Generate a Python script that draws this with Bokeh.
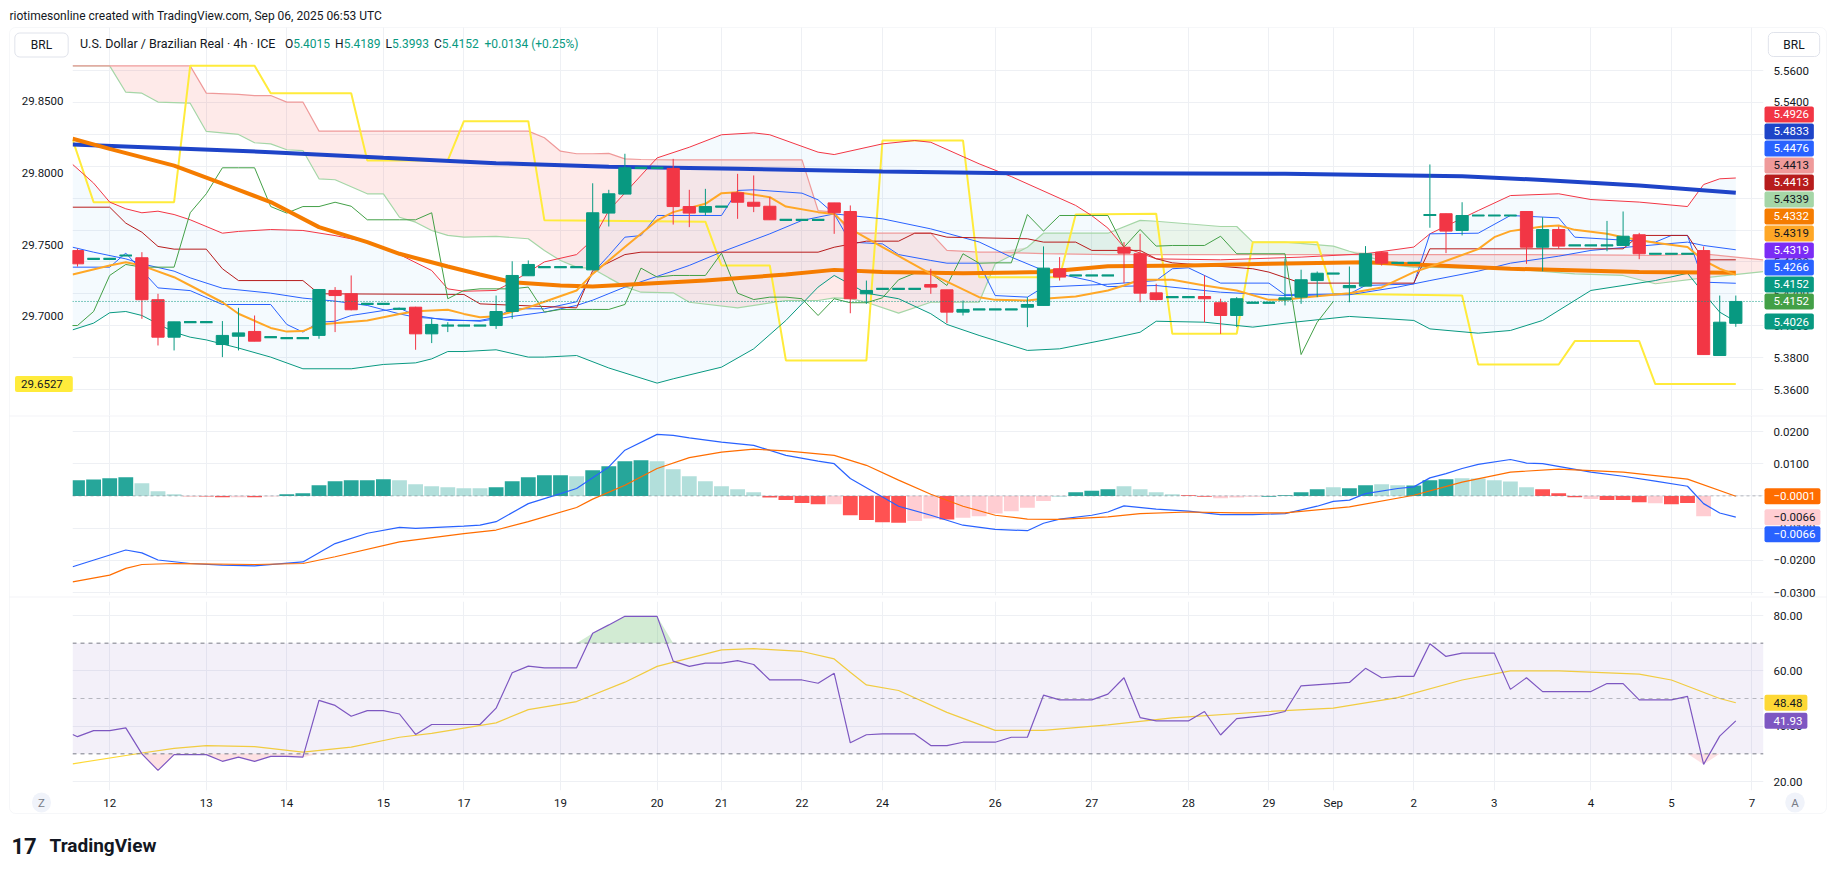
import numpy as np
from bokeh.plotting import figure
from bokeh.models import (Range1d, LinearAxis, FixedTicker, Label, Span, BoxAnnotation,
                          ColumnDataSource, NumeralTickFormatter, CustomJSTickFormatter)
from bokeh.layouts import column
from bokeh.embed import file_html
from bokeh.resources import INLINE

# ---------------- data ----------------
bar_open = [5.4471, 5.4419, 5.4419, 5.4440, 5.4426, 5.4163, 5.3928, 5.4022, 5.4022, 5.3882,
            5.3934, 5.3964, 5.3928, 5.3922, 5.3922, 5.3939, 5.4221, 5.4200, 5.4137, 5.4137,
            5.4106, 5.4116, 5.3949, 5.4001, 5.4001, 5.4001, 5.4001, 5.4089, 5.4313, 5.4367,
            5.4367, 5.4367, 5.4350, 5.4706, 5.4825, 5.4990, 5.4990, 5.4986, 5.4747, 5.4712,
            5.4747, 5.4833, 5.4774, 5.4749, 5.4664, 5.4664, 5.4664, 5.4770, 5.4716, 5.4200,
            5.4231, 5.4231, 5.4231, 5.4258, 5.4225, 5.4085, 5.4102, 5.4102, 5.4102, 5.4116,
            5.4127, 5.4357, 5.4315, 5.4315, 5.4315, 5.4492, 5.4451, 5.4206, 5.4179, 5.4179,
            5.4183, 5.4144, 5.4064, 5.4144, 5.4144, 5.4162, 5.4179, 5.4283, 5.4327, 5.4238,
            5.4248, 5.4461, 5.4394, 5.4394, 5.4691, 5.4702, 5.4597, 5.4691, 5.4691, 5.4691,
            5.4716, 5.4492, 5.4603, 5.4503, 5.4503, 5.4503, 5.4503, 5.4570, 5.4451, 5.4451,
            5.4451, 5.4471, 5.3813, 5.4015]
bar_high = [5.4482, 5.4419, 5.4419, 5.4440, 5.4461, 5.4200, 5.4024, 5.4022, 5.4022, 5.4029,
            5.4112, 5.4064, 5.3928, 5.3922, 5.3922, 5.4227, 5.4242, 5.4315, 5.4137, 5.4137,
            5.4106, 5.4119, 5.4043, 5.4022, 5.4001, 5.4001, 5.4189, 5.4404, 5.4409, 5.4367,
            5.4367, 5.4367, 5.4893, 5.4852, 5.5078, 5.4990, 5.4990, 5.5046, 5.4852, 5.4858,
            5.4747, 5.4952, 5.4942, 5.4806, 5.4664, 5.4664, 5.4664, 5.4770, 5.4754, 5.4283,
            5.4231, 5.4231, 5.4231, 5.4357, 5.4225, 5.4158, 5.4102, 5.4102, 5.4102, 5.4179,
            5.4497, 5.4430, 5.4315, 5.4315, 5.4315, 5.4524, 5.4576, 5.4263, 5.4179, 5.4179,
            5.4315, 5.4169, 5.4179, 5.4144, 5.4144, 5.4420, 5.4351, 5.4340, 5.4327, 5.4371,
            5.4499, 5.4461, 5.4394, 5.4394, 5.5011, 5.4702, 5.4774, 5.4691, 5.4691, 5.4691,
            5.4716, 5.4680, 5.4622, 5.4503, 5.4503, 5.4657, 5.4716, 5.4582, 5.4451, 5.4451,
            5.4451, 5.4497, 5.4189, 5.4189]
bar_low = [5.4371, 5.4419, 5.4419, 5.4440, 5.4043, 5.3876, 5.3845, 5.4022, 5.4022, 5.3803,
           5.3845, 5.3903, 5.3928, 5.3922, 5.3922, 5.3918, 5.3960, 5.4096, 5.4137, 5.4137,
           5.4106, 5.3849, 5.3891, 5.3960, 5.4001, 5.4001, 5.3980, 5.4043, 5.4313, 5.4367,
           5.4367, 5.4367, 5.4350, 5.4622, 5.4825, 5.4990, 5.4990, 5.4634, 5.4618, 5.4691,
           5.4747, 5.4670, 5.4712, 5.4664, 5.4664, 5.4664, 5.4664, 5.4576, 5.4078, 5.4137,
           5.4231, 5.4231, 5.4231, 5.4200, 5.4016, 5.4064, 5.4102, 5.4102, 5.4102, 5.3991,
           5.4127, 5.4283, 5.4315, 5.4315, 5.4315, 5.4267, 5.4147, 5.4158, 5.4179, 5.4179,
           5.4022, 5.3949, 5.3991, 5.4144, 5.4144, 5.4127, 5.4137, 5.4179, 5.4327, 5.4147,
           5.4248, 5.4377, 5.4394, 5.4394, 5.4614, 5.4455, 5.4566, 5.4691, 5.4691, 5.4691,
           5.4388, 5.4342, 5.4482, 5.4503, 5.4503, 5.4467, 5.4503, 5.4417, 5.4451, 5.4451,
           5.4451, 5.3819, 5.3813, 5.3993]
bar_close = [5.4388, 5.4419, 5.4419, 5.4440, 5.4163, 5.3928, 5.4024, 5.4022, 5.4022, 5.3939,
             5.3955, 5.3903, 5.3928, 5.3922, 5.3922, 5.4227, 5.4189, 5.4100, 5.4137, 5.4137,
             5.4106, 5.3949, 5.4008, 5.4001, 5.4001, 5.4001, 5.4089, 5.4315, 5.4384, 5.4367,
             5.4367, 5.4367, 5.4708, 5.4827, 5.4990, 5.4990, 5.4990, 5.4747, 5.4706, 5.4747,
             5.4747, 5.4774, 5.4749, 5.4664, 5.4664, 5.4664, 5.4664, 5.4708, 5.4169, 5.4221,
             5.4231, 5.4231, 5.4231, 5.4242, 5.4085, 5.4102, 5.4102, 5.4102, 5.4102, 5.4133,
             5.4361, 5.4305, 5.4315, 5.4315, 5.4315, 5.4455, 5.4204, 5.4164, 5.4179, 5.4179,
             5.4169, 5.4064, 5.4169, 5.4144, 5.4144, 5.4175, 5.4288, 5.4329, 5.4327, 5.4252,
             5.4451, 5.4392, 5.4394, 5.4394, 5.4697, 5.4593, 5.4691, 5.4691, 5.4691, 5.4691,
             5.4492, 5.4603, 5.4499, 5.4503, 5.4503, 5.4503, 5.4561, 5.4451, 5.4451, 5.4451,
             5.4451, 5.3819, 5.4022, 5.4152]

# Bollinger Bands (20, 2)
bb_up_i = [-0.3, 1, 2, 3, 4, 5, 6, 7, 9, 10, 12, 14, 16, 18, 20, 22, 23, 24, 26, 27, 29, 31, 32, 33,
           36, 38, 40, 42, 43, 46, 47, 50, 52, 53, 56, 58, 62, 63, 64, 65, 67, 71, 76, 80, 83, 84,
           87, 89, 92, 94, 97, 100, 101, 102, 103]
bb_up_v = [5.5011, 5.4894, 5.4775, 5.4733, 5.4708, 5.4718, 5.4697, 5.4664, 5.4580, 5.4591, 5.4603,
           5.4597, 5.4565, 5.4524, 5.4446, 5.4346, 5.4231, 5.4216, 5.4221, 5.4273, 5.4400, 5.4446,
           5.4540, 5.4722, 5.5052, 5.5119, 5.5197, 5.5209, 5.5197, 5.5088, 5.5073, 5.5140, 5.5161,
           5.5150, 5.5015, 5.4935, 5.4754, 5.4690, 5.4612, 5.4492, 5.4419, 5.4413, 5.4430, 5.4451,
           5.4493, 5.4576, 5.4722, 5.4816, 5.4827, 5.4791, 5.4775, 5.4747, 5.4885, 5.4921, 5.4926]
bb_lo_i = [-0.3, 1, 2, 3, 4, 6, 7, 8, 10, 12, 14, 17, 19, 21, 22, 23, 24, 26, 28, 29, 31, 33, 36,
           37, 40, 42, 44, 46, 47, 49, 51, 53, 54, 56, 59, 61, 64, 66, 67, 70, 73, 75, 79, 83, 84,
           87, 89, 91, 94, 98, 100, 101, 102, 103]
bb_lo_v = [5.3974, 5.4016, 5.4081, 5.4089, 5.4064, 5.3959, 5.3928, 5.3911, 5.3860, 5.3803, 5.3730,
           5.3730, 5.3757, 5.3767, 5.3792, 5.3838, 5.3838, 5.3849, 5.3803, 5.3803, 5.3813, 5.3735,
           5.3640, 5.3667, 5.3740, 5.3855, 5.4033, 5.4242, 5.4315, 5.4204, 5.4169, 5.4075, 5.4008,
           5.3939, 5.3845, 5.3855, 5.3915, 5.3959, 5.4028, 5.4022, 5.3991, 5.4016, 5.4058, 5.4033,
           5.3980, 5.3953, 5.3970, 5.4033, 5.4221, 5.4283, 5.4329, 5.4204, 5.4085, 5.4026]
bb_mid_i = [-0.3, 1, 3, 4, 6, 7, 9, 12, 14, 16, 18, 20, 21, 24, 25, 27, 29, 31, 32, 34, 36, 38, 40,
            43, 45, 47, 50, 53, 56, 58, 60, 63, 64, 67, 71, 75, 79, 82, 84, 87, 89, 92, 94, 97, 100,
            101, 103]
bb_mid_v = [5.4492, 5.4461, 5.4419, 5.4388, 5.4342, 5.4300, 5.4235, 5.4204, 5.4173, 5.4154, 5.4127,
            5.4074, 5.4053, 5.4033, 5.4028, 5.4058, 5.4085, 5.4127, 5.4160, 5.4242, 5.4309, 5.4378,
            5.4462, 5.4576, 5.4660, 5.4701, 5.4670, 5.4607, 5.4525, 5.4430, 5.4346, 5.4280, 5.4245,
            5.4252, 5.4210, 5.4189, 5.4194, 5.4242, 5.4283, 5.4342, 5.4392, 5.4436, 5.4472, 5.4499,
            5.4524, 5.4503, 5.4476]

# Ichimoku
conv_i = [-0.3, 2, 3, 5, 7, 9, 12, 13, 14, 15, 16, 17, 19, 20, 21, 23, 25, 26, 27, 29, 31, 32, 33,
          34, 35, 36, 40, 41, 42, 45, 46, 47, 48, 50, 51, 53, 54, 56, 57, 59, 60, 64, 67, 68, 69, 71,
          74, 75, 79, 80, 83, 84, 87, 89, 92, 93, 98, 99, 100, 101, 103]
conv_v = [5.4367, 5.4367, 5.4455, 5.4237, 5.4220, 5.4133, 5.4133, 5.4008, 5.3960, 5.4022, 5.4028,
          5.4064, 5.4095, 5.4110, 5.4064, 5.4033, 5.4033, 5.4053, 5.4106, 5.4106, 5.4150, 5.4330,
          5.4440, 5.4555, 5.4565, 5.4691, 5.4691, 5.4848, 5.4852, 5.4831, 5.4789, 5.4701, 5.4524,
          5.4513, 5.4446, 5.4409, 5.4392, 5.4392, 5.4189, 5.4179, 5.4242, 5.4260, 5.4283, 5.4357,
          5.4363, 5.4267, 5.4267, 5.4194, 5.4200, 5.4252, 5.4262, 5.4576, 5.4580, 5.4691, 5.4676,
          5.4555, 5.4524, 5.4566, 5.4566, 5.4273, 5.4266]
base_i = [-0.3, 2, 3, 4, 5, 6, 8, 9, 10, 14, 15, 24, 25, 31, 32, 34, 35, 46, 47, 49, 51, 52, 53, 54,
          59, 60, 62, 63, 66, 67, 68, 73, 74, 76, 83, 84, 96, 97, 100, 101, 103]
base_v = [5.4743, 5.4743, 5.4643, 5.4586, 5.4497, 5.4480, 5.4480, 5.4357, 5.4283, 5.4283, 5.4200,
          5.4196, 5.4137, 5.4112, 5.4346, 5.4446, 5.4461, 5.4461, 5.4492, 5.4530, 5.4530, 5.4580,
          5.4580, 5.4555, 5.4545, 5.4524, 5.4524, 5.4472, 5.4472, 5.4420, 5.4394, 5.4357, 5.4336,
          5.4267, 5.4267, 5.4482, 5.4482, 5.4566, 5.4566, 5.4413, 5.4413]
lag_i = list(range(-1, 79))
lag_v = [5.4001, 5.4001, 5.4089, 5.4315, 5.4384, 5.4367, 5.4367, 5.4367, 5.4708, 5.4827,
         5.4990, 5.4990, 5.4990, 5.4747, 5.4706, 5.4747, 5.4747, 5.4774, 5.4749, 5.4664,
         5.4664, 5.4664, 5.4664, 5.4708, 5.4169, 5.4221, 5.4231, 5.4231, 5.4231, 5.4242,
         5.4085, 5.4102, 5.4102, 5.4102, 5.4102, 5.4133, 5.4361, 5.4305, 5.4315, 5.4315,
         5.4315, 5.4455, 5.4204, 5.4164, 5.4179, 5.4179, 5.4169, 5.4064, 5.4169, 5.4144,
         5.4144, 5.4175, 5.4288, 5.4329, 5.4327, 5.4252, 5.4451, 5.4392, 5.4394, 5.4394,
         5.4697, 5.4593, 5.4691, 5.4691, 5.4691, 5.4691, 5.4492, 5.4603, 5.4499, 5.4503,
         5.4503, 5.4503, 5.4561, 5.4451, 5.4451, 5.4451, 5.4451, 5.3819, 5.4022, 5.4152]
cloud_i = [-0.3, 2, 3, 4, 5, 7, 8, 10, 11, 12, 13, 14, 15, 16, 18, 19, 20, 21, 22, 23, 24, 26, 28,
           29, 30, 31, 32, 33, 34, 35, 37, 38, 41, 44, 45, 46, 47, 48, 49, 51, 53, 54, 56, 57, 59,
           60, 64, 66, 67, 71, 72, 73, 75, 78, 79, 82, 83, 89, 93, 96, 98, 101, 104.7]
span_a = [5.5629, 5.5629, 5.5464, 5.5458, 5.5402, 5.5395, 5.5218, 5.5199, 5.5147, 5.5140, 5.5103,
          5.5098, 5.4921, 5.4915, 5.4827, 5.4827, 5.4680, 5.4649, 5.4597, 5.4566, 5.4555, 5.4560,
          5.4545, 5.4471, 5.4409, 5.4367, 5.4357, 5.4300, 5.4245, 5.4210, 5.4206, 5.4147, 5.4112,
          5.4158, 5.4158, 5.4158, 5.4175, 5.4170, 5.4147, 5.4079, 5.4147, 5.4147, 5.4147, 5.4388,
          5.4492, 5.4580, 5.4580, 5.4660, 5.4655, 5.4622, 5.4622, 5.4524, 5.4524, 5.4499, 5.4467,
          5.4377, 5.4367, 5.4357, 5.4325, 5.4315, 5.4263, 5.4300, 5.4339]
span_b = [5.5629, 5.5629, 5.5629, 5.5629, 5.5629, 5.5629, 5.5458, 5.5450, 5.5443, 5.5443, 5.5402,
          5.5402, 5.5220, 5.5220, 5.5220, 5.5220, 5.5220, 5.5220, 5.5220, 5.5220, 5.5220, 5.5220,
          5.5220, 5.5178, 5.5094, 5.5078, 5.5078, 5.5080, 5.5046, 5.5042, 5.5040, 5.5040, 5.5040,
          5.5040, 5.5040, 5.4722, 5.4712, 5.4580, 5.4580, 5.4580, 5.4580, 5.4472, 5.4461, 5.4461,
          5.4455, 5.4452, 5.4446, 5.4446, 5.4446, 5.4446, 5.4446, 5.4446, 5.4446, 5.4446, 5.4446,
          5.4446, 5.4446, 5.4446, 5.4444, 5.4442, 5.4440, 5.4450, 5.4413]

# Moving averages
ma_long_i = [-0.3, 12, 19, 26, 33, 41, 50, 58, 64, 75, 86, 91, 97, 103]
ma_long_v = [5.5136, 5.5088, 5.5053, 5.5019, 5.4996, 5.4984, 5.4967, 5.4956, 5.4956, 5.4952,
             5.4937, 5.4914, 5.4879, 5.4834]
ma_mid_i = [-0.3, 2, 6, 9, 12, 15, 18, 20, 23, 25, 27, 30, 32, 39, 44, 47, 50, 55, 60, 64, 69, 74,
            80, 82, 89, 97, 103]
ma_mid_v = [5.5172, 5.5109, 5.5004, 5.4890, 5.4775, 5.4618, 5.4524, 5.4451, 5.4371, 5.4321, 5.4273,
            5.4252, 5.4246, 5.4283, 5.4321, 5.4350, 5.4336, 5.4329, 5.4336, 5.4373, 5.4377, 5.4388,
            5.4398, 5.4388, 5.4357, 5.4336, 5.4332]
ma_fast_i = [-0.3, 2, 3, 4, 6, 7, 9, 10, 12, 13, 14, 15, 18, 20, 21, 23, 24, 25, 26, 28, 29, 31, 32,
             34, 36, 37, 39, 40, 41, 43, 44, 46, 47, 48, 50, 53, 56, 57, 59, 60, 62, 64, 65, 66, 68,
             70, 72, 74, 75, 76, 79, 81, 83, 84, 87, 88, 89, 91, 92, 93, 95, 96, 98, 100, 101, 102, 103]
ma_fast_v = [5.4321, 5.4377, 5.4398, 5.4377, 5.4304, 5.4252, 5.4147, 5.4075, 5.3986, 5.3963, 5.3966,
             5.4008, 5.4033, 5.4074, 5.4091, 5.4100, 5.4074, 5.4053, 5.4060, 5.4115, 5.4150, 5.4221,
             5.4325, 5.4493, 5.4660, 5.4712, 5.4764, 5.4831, 5.4837, 5.4806, 5.4747, 5.4712, 5.4701,
             5.4607, 5.4493, 5.4325, 5.4179, 5.4162, 5.4158, 5.4169, 5.4183, 5.4221, 5.4252, 5.4288,
             5.4288, 5.4252, 5.4221, 5.4162, 5.4162, 5.4175, 5.4204, 5.4240, 5.4336, 5.4370, 5.4480,
             5.4555, 5.4593, 5.4622, 5.4628, 5.4601, 5.4576, 5.4555, 5.4520, 5.4493, 5.4409, 5.4357,
             5.4319]

# step line on the left scale
step_i = [-0.3, 1, 6, 7, 11, 12, 17, 18, 23, 24, 28, 29, 39, 40, 43, 44, 49, 50, 55, 56, 61, 62, 67,
          68, 72, 73, 77, 78, 86, 87, 92, 93, 97, 98, 103]
step_v = [29.8231, 29.7796, 29.7796, 29.8747, 29.8747, 29.8556, 29.8556, 29.8087, 29.8087, 29.8361,
          29.8361, 29.7669, 29.7660, 29.7354, 29.7354, 29.6692, 29.6692, 29.8226, 29.8226, 29.7273,
          29.7273, 29.7710, 29.7715, 29.6878, 29.6878, 29.7517, 29.7517, 29.7157, 29.7145, 29.6664,
          29.6664, 29.6827, 29.6827, 29.6527, 29.6527]

# MACD
macd_hist = [0.00486, 0.00506, 0.00548, 0.00579, 0.00393, 0.00145, 0.00052, -0.0001, -0.0002, -0.0004,
             -0.0004, -0.0004, -0.0002, 0.0005, 0.0008, 0.0033, 0.00455, 0.00486, 0.00486, 0.00517,
             0.00486, 0.00362, 0.0030, 0.00269, 0.00238, 0.00238, 0.00269, 0.00455, 0.00579, 0.0064,
             0.0064, 0.0061, 0.0080, 0.0092, 0.01075, 0.0111, 0.01075, 0.0083, 0.0061, 0.00455,
             0.0030, 0.0021, 0.0011, -0.0005, -0.0013, -0.0022, -0.0026, -0.0026, -0.0060, -0.0075,
             -0.0082, -0.0083, -0.0078, -0.0070, -0.0073, -0.0068, -0.0063, -0.0055, -0.0048, -0.0037,
             -0.0016, -0.0001, 0.0011, 0.0016, 0.0021, 0.0030, 0.0021, 0.0011, 0.0005, 0.0002,
             -0.0003, -0.0007, -0.0005, -0.0003, -0.0003, 0.0002, 0.0011, 0.0021, 0.0027, 0.0024,
             0.0033, 0.0036, 0.0033, 0.0032, 0.0049, 0.0052, 0.0055, 0.0054, 0.0049, 0.0045,
             0.0027, 0.0021, 0.0008, -0.0004, -0.0010, -0.0013, -0.0013, -0.0020, -0.0023, -0.0026,
             -0.0022, -0.0063, -0.0071, -0.0066]
macd_hist_kind = ("GGGGgggRRRrRrGGGGGGGggggggGGGGGgGGGGgggggggRRRRrRRRRrrRrrrrrrGGGGggggRRrrrGGGGgGGgg"
                  "GGGgggggRRRrRRRrRRr")
macd_i = [-0.3, 3, 4, 5, 7, 9, 11, 14, 16, 18, 20, 21, 24, 25, 26, 28, 30, 31, 33, 34, 36, 37, 38, 40,
          42, 44, 46, 47, 48, 51, 53, 55, 57, 59, 60, 61, 63, 64, 65, 67, 69, 71, 73, 75, 77, 78, 79,
          80, 82, 83, 84, 85, 86, 87, 89, 90, 91, 94, 96, 98, 100, 101, 102, 103]
macd_v = [-0.0220, -0.0168, -0.0177, -0.0199, -0.0210, -0.0215, -0.0217, -0.0205, -0.0148, -0.0116,
          -0.0098, -0.0101, -0.0094, -0.0091, -0.0080, -0.0024, 0.0007, 0.0023, 0.0090, 0.0142,
          0.0191, 0.0188, 0.0180, 0.0167, 0.0157, 0.0126, 0.0108, 0.0100, 0.0054, -0.0032, -0.0060,
          -0.0091, -0.0104, -0.0108, -0.0085, -0.0072, -0.0060, -0.0050, -0.0031, -0.0041, -0.0047,
          -0.0058, -0.0058, -0.0055, -0.0032, -0.0017, -0.0013, 0.0007, 0.0023, 0.0028, 0.0056,
          0.0069, 0.0085, 0.0098, 0.0113, 0.0102, 0.0100, 0.0074, 0.0061, 0.0046, 0.0030, -0.0024,
          -0.0053, -0.0066]
signal_i = [-0.3, 2, 3, 4, 6, 11, 14, 16, 20, 24, 26, 28, 31, 32, 34, 36, 38, 40, 42, 44, 47, 49, 51,
            53, 55, 57, 59, 61, 64, 66, 69, 72, 75, 79, 83, 86, 89, 92, 96, 100, 103]
signal_v = [-0.0267, -0.0246, -0.0225, -0.0213, -0.0210, -0.0213, -0.0210, -0.0189, -0.0143, -0.0117,
            -0.0106, -0.0080, -0.0036, -0.0010, 0.0033, 0.0085, 0.0119, 0.0136, 0.0145, 0.0140,
            0.0126, 0.0095, 0.0049, 0.0005, -0.0032, -0.0060, -0.0072, -0.0073, -0.0065, -0.0055,
            -0.0050, -0.0053, -0.0053, -0.0034, 0.0002, 0.0043, 0.0074, 0.0083, 0.0074, 0.0052,
            -0.0001]

# RSI
rsi_i = [-0.3, 0, 1, 2, 3, 4, 5, 6, 8, 9, 10, 11, 12, 13, 14, 15, 16, 17, 18, 19, 20, 21, 22, 25, 26,
         27, 28, 29, 31, 32, 33, 34, 36, 37, 38, 39, 40, 41, 42, 43, 45, 46, 47, 48, 49, 50, 51, 52,
         53, 54, 55, 57, 58, 59, 60, 61, 63, 64, 65, 66, 67, 69, 70, 71, 72, 74, 75, 76, 78, 79, 80,
         81, 82, 83, 84, 85, 86, 88, 89, 90, 91, 94, 95, 96, 97, 99, 100, 101, 102, 103]
rsi_v = [37.0, 36.2, 38.4, 38.4, 39.4, 30.0, 24.0, 29.7, 29.7, 27.3, 28.8, 27.3, 29.1, 29.1, 28.8,
         49.3, 47.5, 43.6, 45.6, 45.6, 44.4, 37.0, 40.6, 40.6, 46.5, 59.3, 61.7, 61.1, 61.1, 73.6,
         76.6, 79.7, 79.7, 63.5, 61.6, 62.8, 62.8, 63.7, 62.3, 56.7, 56.7, 55.5, 59.1, 34.0, 36.9,
         37.2, 37.2, 37.2, 33.0, 33.0, 34.2, 34.2, 36.0, 36.0, 51.2, 49.5, 49.5, 51.6, 57.5, 43.1,
         41.9, 41.9, 45.3, 36.8, 42.7, 44.0, 45.3, 54.6, 55.4, 55.8, 60.9, 57.5, 58.0, 58.0, 69.8,
         65.2, 66.4, 66.4, 53.3, 57.5, 52.5, 52.5, 55.4, 55.4, 49.5, 49.5, 50.8, 26.2, 36.4, 41.93]
rsi_ma_i = [-0.3, 4, 6, 8, 11, 14, 17, 20, 22, 26, 28, 31, 34, 36, 40, 42, 45, 47, 48, 49, 51, 54, 57,
            60, 64, 68, 74, 78, 82, 86, 89, 92, 97, 99, 102, 103]
rsi_ma_v = [26.4, 30.3, 32.0, 33.0, 32.6, 30.6, 32.4, 36.0, 37.4, 41.2, 46.0, 48.9, 55.9, 61.6, 67.6,
            68.0, 67.0, 64.3, 59.5, 54.9, 52.9, 45.0, 38.5, 38.5, 40.5, 43.0, 45.3, 46.5, 50.3, 56.7,
            60.0, 60.0, 58.8, 56.7, 50.0, 48.48]

# axis ticks / labels
time_tick_idx = [2, 8, 13, 19, 24, 30, 36, 40, 45, 50, 57, 63, 69, 74, 78, 83, 88, 94, 99, 104]
time_tick_lbl = ["12", "13", "14", "15", "17", "19", "20", "21", "22", "24", "26", "27", "28", "29",
                 "Sep", "2", "3", "4", "5", "7"]
price_ticks = [5.36, 5.38, 5.40, 5.42, 5.44, 5.46, 5.48, 5.50, 5.52, 5.54, 5.56]
left_ticks = [29.70, 29.75, 29.80, 29.85]
macd_ticks = [-0.03, -0.02, -0.01, 0.0, 0.01, 0.02]
rsi_ticks = [20, 40, 60, 80]

# ---------------- styling / geometry constants ----------------
UP, DOWN = "#089981", "#F23645"
TXT = "#131722"
GRID = "#EEF0F4"
SEP = "#E0E3EB"
FONT = "Roboto"
FS = "11.5px"
W, H = 1835, 875
FL, FR = 72, 1763              # plot frame left / right (canvas px)
X0, X1 = -0.31, 104.72
P_LO, P_HI = 5.34370, 5.58696   # price pane, frame 27..415
L_LO, L_HI = 29.6308, 29.9014
M_LO, M_HI = -0.03093, 0.02497  # macd pane, frame 415..595
R_LO, R_HI = 16.75, 85.06       # rsi pane, frame 601..790
PANES = {"price": (27, 415, P_LO, P_HI), "left": (27, 415, L_LO, L_HI),
         "macd": (415, 595, M_LO, M_HI), "rsi": (601, 790, R_LO, R_HI)}


def make_fig(h, ylo, yhi, top, bottom, xaxis=None):
    p = figure(width=W, height=h, x_range=Range1d(X0, X1), y_range=Range1d(ylo, yhi),
               min_border_left=FL, min_border_right=W - FR, min_border_top=top,
               min_border_bottom=bottom, x_axis_location=xaxis, y_axis_location="right",
               output_backend="svg", toolbar_location=None, outline_line_color=None,
               background_fill_color="white", border_fill_color="white")
    p.xgrid.ticker = FixedTicker(ticks=time_tick_idx)
    p.xgrid.grid_line_color = GRID
    p.ygrid.grid_line_color = GRID
    return p


def style_axis(ax, ticks, standoff=10):
    ax.ticker = FixedTicker(ticks=ticks)
    ax.axis_line_color = None
    ax.major_tick_line_color = None
    ax.minor_tick_line_color = None
    ax.major_tick_out = 0
    ax.major_tick_in = 0
    ax.minor_tick_out = 0
    ax.major_label_text_font = FONT
    ax.major_label_text_font_size = FS
    ax.major_label_text_color = TXT
    ax.major_label_standoff = standoff


# ================= price pane =================
p1 = make_fig(415, P_LO, P_HI, 27, 0)
style_axis(p1.yaxis[0], price_ticks)
p1.yaxis[0].formatter = NumeralTickFormatter(format="0.0000")
p1.ygrid.ticker = FixedTicker(ticks=price_ticks)
p1.extra_y_ranges = {"left": Range1d(L_LO, L_HI)}
lax = LinearAxis(y_range_name="left", formatter=NumeralTickFormatter(format="0.0000"))
style_axis(lax, left_ticks, standoff=9)
p1.add_layout(lax, "left")

p1.patch(x=bb_up_i + bb_lo_i[::-1], y=bb_up_v + bb_lo_v[::-1], fill_color="#2196F3",
         fill_alpha=0.05, line_color=None)
sa, sb = np.array(span_a), np.array(span_b)
top_ab = np.maximum(sa, sb)
p1.varea(x=cloud_i, y1=sa, y2=top_ab, fill_color="#F44336", fill_alpha=0.11)
p1.varea(x=cloud_i, y1=sb, y2=top_ab, fill_color="#43A047", fill_alpha=0.11)
p1.line(cloud_i, span_a, line_color="#A5D6A7", line_width=1.2)
p1.line(cloud_i, span_b, line_color="#EF9A9A", line_width=1.2)
p1.line(step_i, step_v, y_range_name="left", line_color="#FFEB3B", line_width=2)
p1.line(bb_up_i, bb_up_v, line_color="#F23645", line_width=1)
p1.line(bb_lo_i, bb_lo_v, line_color="#089981", line_width=1)
p1.line(bb_mid_i, bb_mid_v, line_color="#2962FF", line_width=1)
p1.line(conv_i, conv_v, line_color="#2962FF", line_width=1)
p1.line(base_i, base_v, line_color="#B71C1C", line_width=1)
p1.line(lag_i, lag_v, line_color="#43A047", line_width=1)
p1.line(ma_long_i, ma_long_v, line_color="#1E44C8", line_width=4)
p1.line(ma_mid_i, ma_mid_v, line_color="#F57C00", line_width=4)
p1.line(ma_fast_i, ma_fast_v, line_color="#FFA726", line_width=2)
p1.add_layout(Span(location=bar_close[-1], dimension="width", line_color=UP, line_dash="1 2",
                   line_width=1))

idx = list(range(len(bar_open)))
col = [UP if c >= o else DOWN for o, c in zip(bar_open, bar_close)]
csrc = ColumnDataSource(dict(x=idx, h=bar_high, l=bar_low,
                             top=[max(o, c) for o, c in zip(bar_open, bar_close)],
                             bot=[min(o, c) for o, c in zip(bar_open, bar_close)], color=col))
p1.segment(x0="x", x1="x", y0="l", y1="h", line_color="color", line_width=1, source=csrc)
p1.vbar(x="x", width=0.76, top="top", bottom="bot", fill_color="color", line_color="color",
        source=csrc)
flat = [k for k in idx if abs(bar_open[k] - bar_close[k]) < 0.0004]
p1.segment(x0=[k - 0.38 for k in flat], x1=[k + 0.38 for k in flat],
           y0=[bar_close[k] for k in flat], y1=[bar_close[k] for k in flat],
           line_color=[col[k] for k in flat], line_width=2.2)

# ================= MACD pane =================
p2 = make_fig(186, M_LO, M_HI, 0, 6)
style_axis(p2.yaxis[0], macd_ticks)
p2.yaxis[0].formatter = CustomJSTickFormatter(
    code="return (tick < -1e-9 ? '\u2212' : '') + Math.abs(tick).toFixed(4);")
p2.ygrid.ticker = FixedTicker(ticks=macd_ticks)
kind_col = {"G": "#26A69A", "g": "#B2DFDB", "R": "#FF5252", "r": "#FFCDD2"}
p2.vbar(x=idx, width=0.92, top=macd_hist, bottom=0,
        fill_color=[kind_col[k] for k in macd_hist_kind], line_color=None)
p2.add_layout(Span(location=0, dimension="width", line_color="#787B86", line_alpha=0.5,
                   line_dash="3 3", line_width=1))
p2.line(macd_i, macd_v, line_color="#2962FF", line_width=1.2)
p2.line(signal_i, signal_v, line_color="#FF6D00", line_width=1.2)

# ================= RSI pane =================
p3 = make_fig(274, R_LO, R_HI, 0, 85, xaxis="below")
style_axis(p3.yaxis[0], rsi_ticks)
p3.yaxis[0].formatter = NumeralTickFormatter(format="0.00")
p3.ygrid.ticker = FixedTicker(ticks=rsi_ticks)
xa = p3.xaxis[0]
style_axis(xa, time_tick_idx, standoff=5)
xa.major_label_overrides = {t: s for t, s in zip(time_tick_idx, time_tick_lbl)}
p3.add_layout(BoxAnnotation(bottom=30, top=70, fill_color="#7E57C2", fill_alpha=0.09,
                            line_color=None))
for lvl, a in [(70, 1.0), (30, 1.0), (50, 0.5)]:
    p3.add_layout(Span(location=lvl, dimension="width", line_color="#787B86", line_alpha=a,
                       line_dash="4 4", line_width=1))
rv = np.array(rsi_v)
p3.varea(x=rsi_i, y1=70, y2=np.maximum(rv, 70), fill_color="#4CAF50", fill_alpha=0.25)
p3.varea(x=rsi_i, y1=np.minimum(rv, 30), y2=30, fill_color="#F23645", fill_alpha=0.15)
p3.line(rsi_ma_i, rsi_ma_v, line_color="#FDD835", line_width=1.2)
p3.line(rsi_i, rsi_v, line_color="#7E57C2", line_width=1.2)

# ================= overlay (texts outside the plot frames) =================
ov_kw = dict(height=H, x_range=Range1d(0, W), y_range=Range1d(0, H),
             min_border_left=0, min_border_right=0, min_border_top=0, min_border_bottom=0,
             x_axis_location=None, y_axis_location=None, output_backend="svg",
             toolbar_location=None, outline_line_color=None, background_fill_color=None,
             border_fill_color=None)
try:
    # opt out of the column's frame alignment so the overlay frame is the whole page
    ov = figure(width=W, margin=(-H, 0, 0, 0), frame_align=False, **ov_kw)
except Exception:
    ov = figure(width=W + 2 * FL, margin=(-H, -FL, 0, -FL), **ov_kw)
ov.xgrid.visible = False
ov.ygrid.visible = False


def aligned(top, bot, lo, hi):
    ppu = (bot - top) / (hi - lo)
    return Range1d(lo - (H - bot) / ppu, hi + top / ppu)


ov.extra_y_ranges = {k: aligned(*v) for k, v in PANES.items()}


def otxt(X, Y, text, size=FS, color=TXT, align="left", style="normal", **kw):
    ov.add_layout(Label(x=X, y=H - Y, x_units="screen", y_units="screen", text=text,
                        text_font=FONT, text_font_size=size, text_color=color, text_align=align,
                        text_baseline="middle", text_font_style=style, **kw))


def value_boxes(items, pane, upward):
    top, bot, lo, hi = PANES[pane]
    box_h = 17.0 * (hi - lo) / (bot - top)
    pos = []
    for k, it in enumerate(items):
        v = it[0]
        if k == 0:
            q = v
        elif upward:
            q = max(v, pos[-1] + box_h)
        else:
            q = min(v, pos[-1] - box_h)
        pos.append(q)
    for (v, text, bg, fg), q in zip(items, pos):
        # padding given as (left, right, top, bottom)
        ov.add_layout(Label(x=FR + 1, y=q, x_units="screen", y_units="data", y_range_name=pane,
                            text=text, text_font=FONT, text_font_size=FS, text_color=fg,
                            text_align="left", text_baseline="middle", background_fill_color=bg,
                            padding=(9, 5, 4, 4), border_radius=2))


# frame border and pane separators
ov.add_layout(BoxAnnotation(left=9, right=1826, top=H - 27, bottom=H - 813, left_units="screen",
                            right_units="screen", top_units="screen", bottom_units="screen",
                            fill_color=None, line_color=SEP, line_width=1, border_radius=6))
for ysep in (415, 596):
    ov.add_layout(BoxAnnotation(left=9, right=1826, top=H - ysep, bottom=H - ysep - 1,
                                left_units="screen", right_units="screen", top_units="screen",
                                bottom_units="screen", fill_color=SEP, line_color=None))

price_boxes = [
    (5.4026, "5.4026", "#089981", "white"),
    (5.4152, "5.4152", "#43A047", "white"),
    (5.4152, "5.4152", "#089981", "white"),
    (5.4266, "5.4266", "#2962FF", "white"),
    (5.4319, "5.4319", "#7B2CF5", "white"),
    (5.4319, "5.4319", "#FFA726", TXT),
    (5.4332, "5.4332", "#F57C00", "white"),
    (5.4339, "5.4339", "#A5D6A7", TXT),
    (5.4413, "5.4413", "#B71C1C", "white"),
    (5.4413, "5.4413", "#EF9A9A", TXT),
    (5.4476, "5.4476", "#2962FF", "white"),
    (5.4833, "5.4833", "#1E44C8", "white"),
    (5.4926, "5.4926", "#F23645", "white"),
]
value_boxes(price_boxes, "price", upward=True)
macd_boxes = [
    (signal_v[-1], "\u22120.0001", "#FF6D00", "white"),
    (macd_hist[-1], "\u22120.0066", "#FFCDD2", TXT),
    (macd_v[-1], "\u22120.0066", "#2962FF", "white"),
]
value_boxes(macd_boxes, "macd", upward=False)
rsi_boxes = [
    (rsi_ma_v[-1], "48.48", "#FDD835", TXT),
    (rsi_v[-1], "41.93", "#7E57C2", "white"),
]
value_boxes(rsi_boxes, "rsi", upward=False)

ov.add_layout(Label(x=14.5, y=step_v[-1], x_units="screen", y_units="data", y_range_name="left",
                    text="29.6527", text_font=FONT, text_font_size=FS, text_color=TXT,
                    text_align="left", text_baseline="middle", background_fill_color="#FFEB3B",
                    padding=(6, 10, 4, 4), border_radius=2))

# header
otxt(9, 15, "riotimesonline created with TradingView.com, Sep 06, 2025 06:53 UTC", size="12px")
otxt(41, 44.5, "BRL", size="12px", align="center", background_fill_color="white",
     border_line_color=SEP, padding=(16, 16, 5, 5), border_radius=5)
otxt(1793.5, 44, "BRL", size="12px", align="center", background_fill_color="white",
     border_line_color=SEP, padding=(15, 15, 5, 5), border_radius=5)
otxt(79.5, 43, "U.S. Dollar / Brazilian Real \u00b7 4h \u00b7 ICE", size="12.5px")
for X, s, c in [(284.4, "O", TXT), (292.7, "5.4015", UP), (334.6, "H", TXT), (343.2, "5.4189", UP),
                (385.1, "L", TXT), (391.6, "5.3993", UP), (433.5, "C", TXT), (441.3, "5.4152", UP),
                (484, "+0.0134 (+0.25%)", UP)]:
    otxt(X, 43, s, size="12px", color=c)

# bottom bits
otxt(41, 802, "Z", color="#787B86", align="center", background_fill_color="#F0F3FA",
     padding=(6, 6, 3, 3), border_radius=10)
otxt(1794.5, 802, "A", color="#787B86", align="center", background_fill_color="#F0F3FA",
     padding=(6, 6, 3, 3), border_radius=10)
otxt(11, 845, "17", size="22px", style="bold")
otxt(49, 845, "TradingView", size="19px", style="bold")

layout = column(p1, p2, p3, ov, spacing=0, styles={"overflow": "hidden"})
open("out.html", "w").write(file_html(layout, INLINE))
